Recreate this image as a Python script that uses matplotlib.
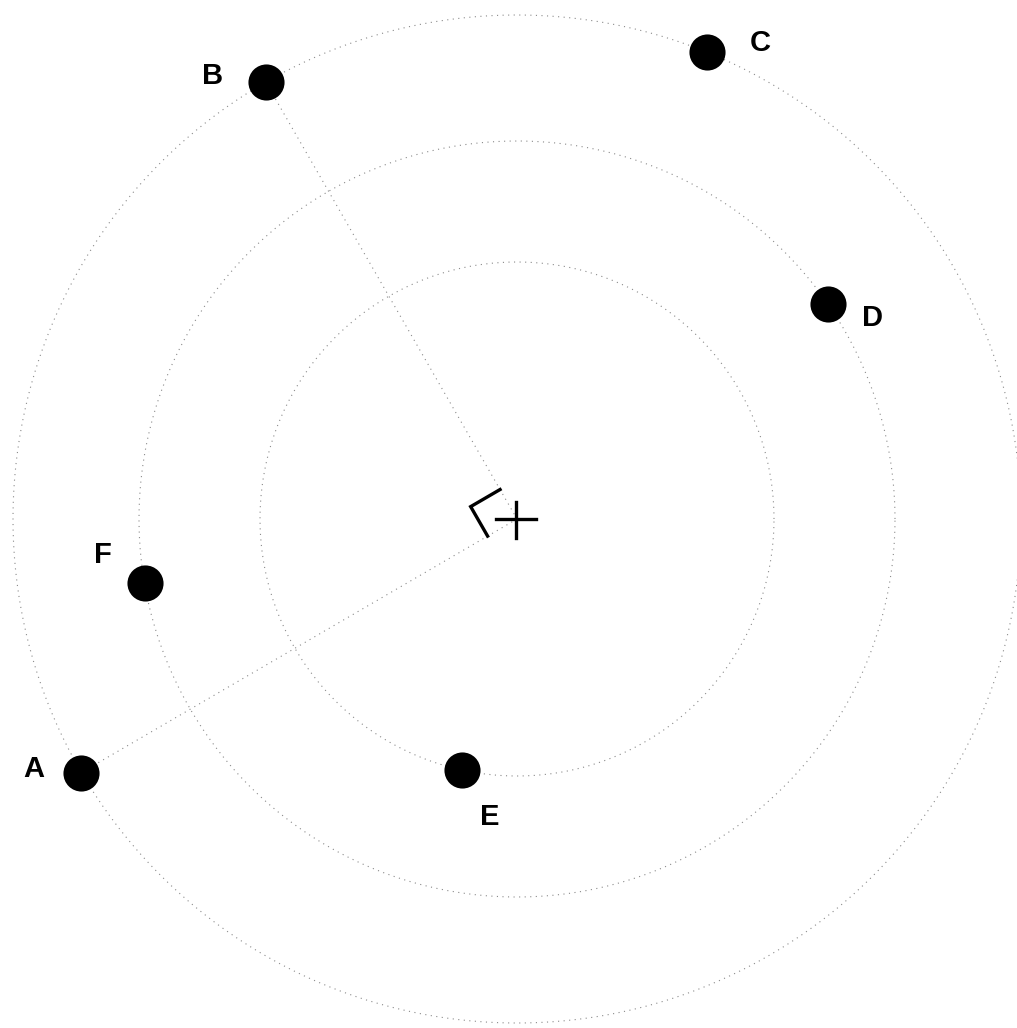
import numpy as np
import matplotlib
matplotlib.use("Agg")
import matplotlib.pyplot as plt

# ---- data ----
labels = ["A", "B", "C", "D", "E", "F"]
angles_deg = [210.2, 119.9, 67.8, 34.7, 257.6, 189.8]   # math convention, counter-clockwise from east
ring_index = [2, 2, 2, 1, 0, 1]                           # which ring each point sits on
ring_radii = [257, 378, 504]                              # ring radii (axis units)
spokes = ["A", "B"]                                        # points joined to the centre

# ---- style / layout ----
W, H = 1017, 1028
cx, cy = 517, 519
label_offsets = [(-48, -7), (-53, -9), (53, -12), (45, 11), (28, 44), (-42, -31)]
grid_color = "#8a8a8a"
dotted = (0, (1, 4))

fig = plt.figure(figsize=(W / 100, H / 100), dpi=100)
ax = fig.add_axes([0, 0, 1, 1])
ax.set_xlim(0, W)
ax.set_ylim(H, 0)
ax.axis("off")

# rings
t = np.linspace(0, 2 * np.pi, 1000)
for r in ring_radii:
    ax.plot(cx + r * np.cos(t), cy - r * np.sin(t), color=grid_color,
            lw=0.8, linestyle=dotted, zorder=1)

# point positions
pos = {}
for lab, a, ri in zip(labels, angles_deg, ring_index):
    r = ring_radii[ri]
    th = np.deg2rad(a)
    pos[lab] = (cx + r * np.cos(th), cy - r * np.sin(th))

# spokes
for s in spokes:
    x, y = pos[s]
    ax.plot([cx, x], [cy, y], color=grid_color, lw=0.8, linestyle=dotted, zorder=1)

# right-angle marker between the two spokes
u = []
for s in spokes:
    x, y = pos[s]
    v = np.array([x - cx, y - cy])
    u.append(v / np.hypot(*v))
m = 34
p1 = np.array([cx, cy]) + m * u[1]
corner = np.array([cx, cy]) + m * (u[0] + u[1])
p2 = np.array([cx, cy]) + m * u[0]
ax.plot([p1[0], corner[0], p2[0]], [p1[1], corner[1], p2[1]], color="black",
        lw=2.4, solid_joinstyle="miter", zorder=3)

# centre plus
ax.plot([cx - 21, cx + 19], [cy, cy], color="black", lw=2.4, zorder=3)
ax.plot([cx - 1, cx - 1], [cy - 17, cy + 19], color="black", lw=2.4, zorder=3)

# points and labels
for lab, (dx, dy) in zip(labels, label_offsets):
    x, y = pos[lab]
    ax.scatter([x], [y], s=26 ** 2, color="black", zorder=4, linewidths=0)
    ax.text(x + dx, y + dy + 11, lab, ha="center", va="baseline",
            fontsize=21, fontweight="bold", family=["Liberation Sans", "DejaVu Sans"],
            zorder=5)

fig.savefig("out.png", dpi=100, facecolor="white")
